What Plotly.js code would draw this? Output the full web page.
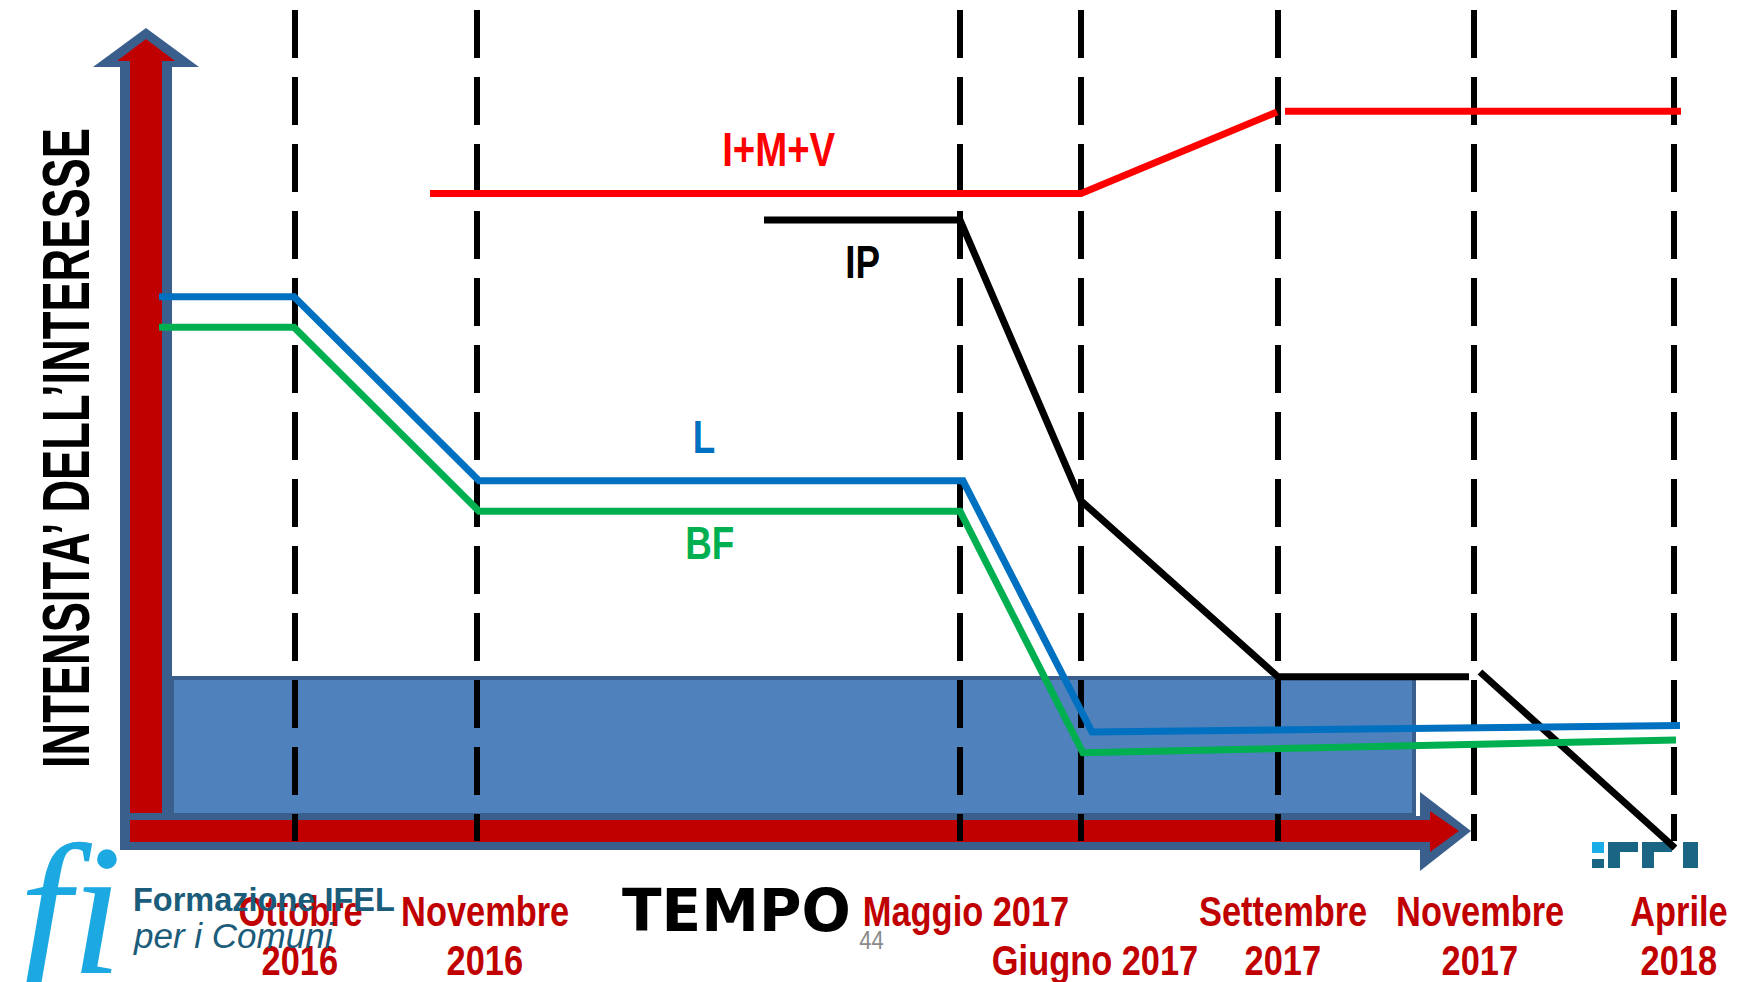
<!DOCTYPE html>
<html>
<head>
<meta charset="utf-8">
<script src="https://cdn.plot.ly/plotly-3.0.1.min.js"></script>
<style>html,body{margin:0;padding:0;background:#fff;}#chart{width:1746px;height:982px;}</style>
</head>
<body>
<div id="chart"></div>
<script>
// ---------- DATA ----------
// timeline milestones (dashed verticals) and their position on the time axis
const milestoneLabels = ["Ottobre 2016", "Novembre 2016", "Maggio 2017", "Giugno 2017", "Settembre 2017", "Novembre 2017", "Aprile 2018"];
const milestoneX = [2.95, 4.77, 9.60, 10.81, 12.78, 14.74, 16.74];

// interest intensity series (arbitrary intensity units, 0 = time axis)
const imvX = [4.30, 10.81, 12.77, null, 12.85, 16.81];
const imvY = [80.8, 80.8, 91.0, null, 91.1, 91.1];

const ipX = [7.64, 9.60, 10.81, 12.78, 14.69, null, 14.80, 16.75];
const ipY = [77.5, 77.5, 42.4, 20.4, 20.4, null, 21.0, -1.0];

const lX = [1.59, 2.94, 4.79, 9.63, 10.92, 16.80];
const lY = [67.9, 67.9, 44.9, 44.9, 13.5, 14.3];

const bfX = [1.59, 2.94, 4.79, 9.60, 10.83, 16.76];
const bfY = [64.1, 64.1, 41.1, 41.1, 10.9, 12.5];

const seriesNames = ["I+M+V", "IP", "L", "BF"];
const yTitle = "INTENSITA\u2019 DELL\u2019INTERESSE";
const xTitle = "TEMPO";

// ---------- LAYOUT HELPERS ----------
const W = 1746, H = 982;
const fx = x => x / W;
const fy = y => 1 - y / H;
const toPath = pts => 'M' + pts.map(p => fx(p[0]).toFixed(5) + ',' + fy(p[1]).toFixed(5)).join('L') + 'Z';

const SANS = "'Liberation Sans', Arial, sans-serif";
const DARKRED = '#C00000';
const ARROW_BLUE = '#3B5F8D';
const NARROW_SCALE = 0.8;

const traces = [
  {x: imvX, y: imvY, name: seriesNames[0], mode: 'lines', line: {color: '#FF0000', width: 7}, connectgaps: false, hoverinfo: 'skip'},
  {x: ipX, y: ipY, name: seriesNames[1], mode: 'lines', line: {color: '#000000', width: 7}, connectgaps: false, hoverinfo: 'skip'},
  {x: lX, y: lY, name: seriesNames[2], mode: 'lines', line: {color: '#0070C0', width: 7}, hoverinfo: 'skip'},
  {x: bfX, y: bfY, name: seriesNames[3], mode: 'lines', line: {color: '#00B050', width: 7}, hoverinfo: 'skip'}
];

const shapes = [];
// outer (dark blue) outline of the two axis arrows
shapes.push({type: 'path', xref: 'paper', yref: 'paper', layer: 'below',
  path: toPath([[120,850],[120,67],[93,67],[146,28],[199,67],[172,67],[172,816],[1420,816],[1420,792],[1471,831],[1420,871],[1420,850]]),
  fillcolor: ARROW_BLUE, line: {width: 0}});
// blue filled band
shapes.push({type: 'rect', xref: 'paper', yref: 'paper', layer: 'below',
  x0: fx(172), x1: fx(1414), y0: fy(678), y1: fy(815),
  fillcolor: '#4F81BD', line: {color: ARROW_BLUE, width: 4}});
// red inner arrows
shapes.push({type: 'path', xref: 'paper', yref: 'paper', layer: 'below',
  path: toPath([[130,813],[130,61],[117,61],[146,39],[175,61],[162,61],[162,813]]),
  fillcolor: '#C00000', line: {width: 0}});
shapes.push({type: 'path', xref: 'paper', yref: 'paper', layer: 'below',
  path: toPath([[130,820],[1430,820],[1430,811],[1459,831],[1430,852],[1430,842],[130,842]]),
  fillcolor: '#C00000', line: {width: 0}});
// dashed milestone lines
milestoneX.forEach(x => {
  shapes.push({type: 'line', xref: 'x', yref: 'paper', layer: 'below',
    x0: x, x1: x, y0: fy(10), y1: fy(841),
    line: {color: '#000000', width: 6, dash: '48px,19px'}});
});
// IFEL logo fragment (bottom right)
const logoRects = [
  [1592, 842, 1604, 853, '#1AADE8'],
  [1592, 859, 1604, 868, '#1A6584'],
  [1608, 842, 1638, 852, '#1A6584'],
  [1608, 842, 1620, 868, '#1A6584'],
  [1642, 842, 1672, 852, '#1A6584'],
  [1642, 842, 1654, 868, '#1A6584'],
  [1683, 842, 1698, 868, '#1A6584']
];
logoRects.forEach(r => shapes.push({type: 'rect', xref: 'paper', yref: 'paper', layer: 'below',
  x0: fx(r[0]), x1: fx(r[2]), y0: fy(r[3]), y1: fy(r[1]), fillcolor: r[4], line: {width: 0}}));

const annotations = [];
const annFit = [];   // per annotation: {scale} or {width} horizontal compression
function ann(text, x, y, size, color, family, extra, fit) {
  const a = Object.assign({text: text, xref: 'paper', yref: 'paper', x: fx(x), y: fy(y),
    xanchor: 'center', yanchor: 'middle', showarrow: false,
    font: {size: size, color: color, family: family}}, extra || {});
  annotations.push(a);
  annFit.push(fit || null);
}
// axis titles
ann('<b>' + yTitle + '</b>', 66, 448, 66, '#000000', SANS, {textangle: -90}, {width: 640});
ann('<b>' + xTitle + '</b>', 736, 911, 58, '#000000', "'DejaVu Sans', Verdana, sans-serif");
// series labels
ann('<b>' + seriesNames[0] + '</b>', 778, 150, 48, '#FF0000', SANS, null, {scale: NARROW_SCALE});
ann('<b>' + seriesNames[1] + '</b>', 862, 262, 46, '#000000', SANS, null, {scale: NARROW_SCALE});
ann('<b>' + seriesNames[2] + '</b>', 704, 437, 46, '#0070C0', SANS, null, {scale: NARROW_SCALE});
ann('<b>' + seriesNames[3] + '</b>', 709, 543, 46, '#00B050', SANS, null, {scale: NARROW_SCALE});
// milestone labels
const labelStyle = ['two', 'two', 'top', 'bottom', 'two', 'two', 'two'];
const labelShift = [5, 8, 6, 14, 5, 6, 5];
milestoneLabels.forEach((lab, i) => {
  const cx = milestoneX[i] * 100 + labelShift[i];
  if (labelStyle[i] === 'two') {
    const parts = lab.split(' ');
    ann('<b>' + parts[0] + '</b>', cx, 911, 43, DARKRED, SANS, null, {scale: NARROW_SCALE});
    ann('<b>' + parts[1] + '</b>', cx, 960, 43, DARKRED, SANS, null, {scale: NARROW_SCALE});
  } else {
    ann('<b>' + lab + '</b>', cx, labelStyle[i] === 'top' ? 911 : 960, 43, DARKRED, SANS, null, {scale: NARROW_SCALE});
  }
});
// slide decorations
ann('fi', 70, 910, 186, '#1CA9E1', "'Liberation Serif', serif", {font: {size: 186, color: '#1CA9E1', family: "'Liberation Serif', serif", style: 'italic'}});
ann('<b>Formazione IFEL</b>', 131, 900, 32.5, '#1B5C7A', SANS, {xanchor: 'left'});
ann('<i>per i Comuni</i>', 131, 935, 35, '#1B5C7A', SANS, {xanchor: 'left'});
ann('44', 871, 940, 26, '#8A8A8A', SANS, null, {scale: 0.85});

const layout = {
  width: W, height: H,
  margin: {l: 0, r: 0, t: 0, b: 0},
  paper_bgcolor: '#FFFFFF', plot_bgcolor: 'rgba(0,0,0,0)',
  showlegend: false,
  xaxis: {range: [0, W / 100], visible: false, fixedrange: true},
  yaxis: {range: [(840 - H) / 8, 840 / 8], visible: false, fixedrange: true},
  shapes: shapes,
  annotations: annotations
};

Plotly.newPlot('chart', traces, layout, {displayModeBar: false, staticPlot: true}).then(gd => {
  // condense narrow-font texts horizontally (as in the Arial Narrow original)
  gd.querySelectorAll('g.annotation').forEach(g => {
    const i = +g.getAttribute('data-index');
    const fit = annFit[i];
    if (!fit) return;
    const t = g.querySelector('text.annotation-text');
    if (!t) return;
    const bb = t.getBBox();
    const s = fit.width ? fit.width / bb.width : fit.scale;
    const cx = bb.x + bb.width / 2;
    t.setAttribute('transform', 'translate(' + cx + ',0) scale(' + s + ',1) translate(' + (-cx) + ',0)');
  });
});
</script>
</body>
</html>
